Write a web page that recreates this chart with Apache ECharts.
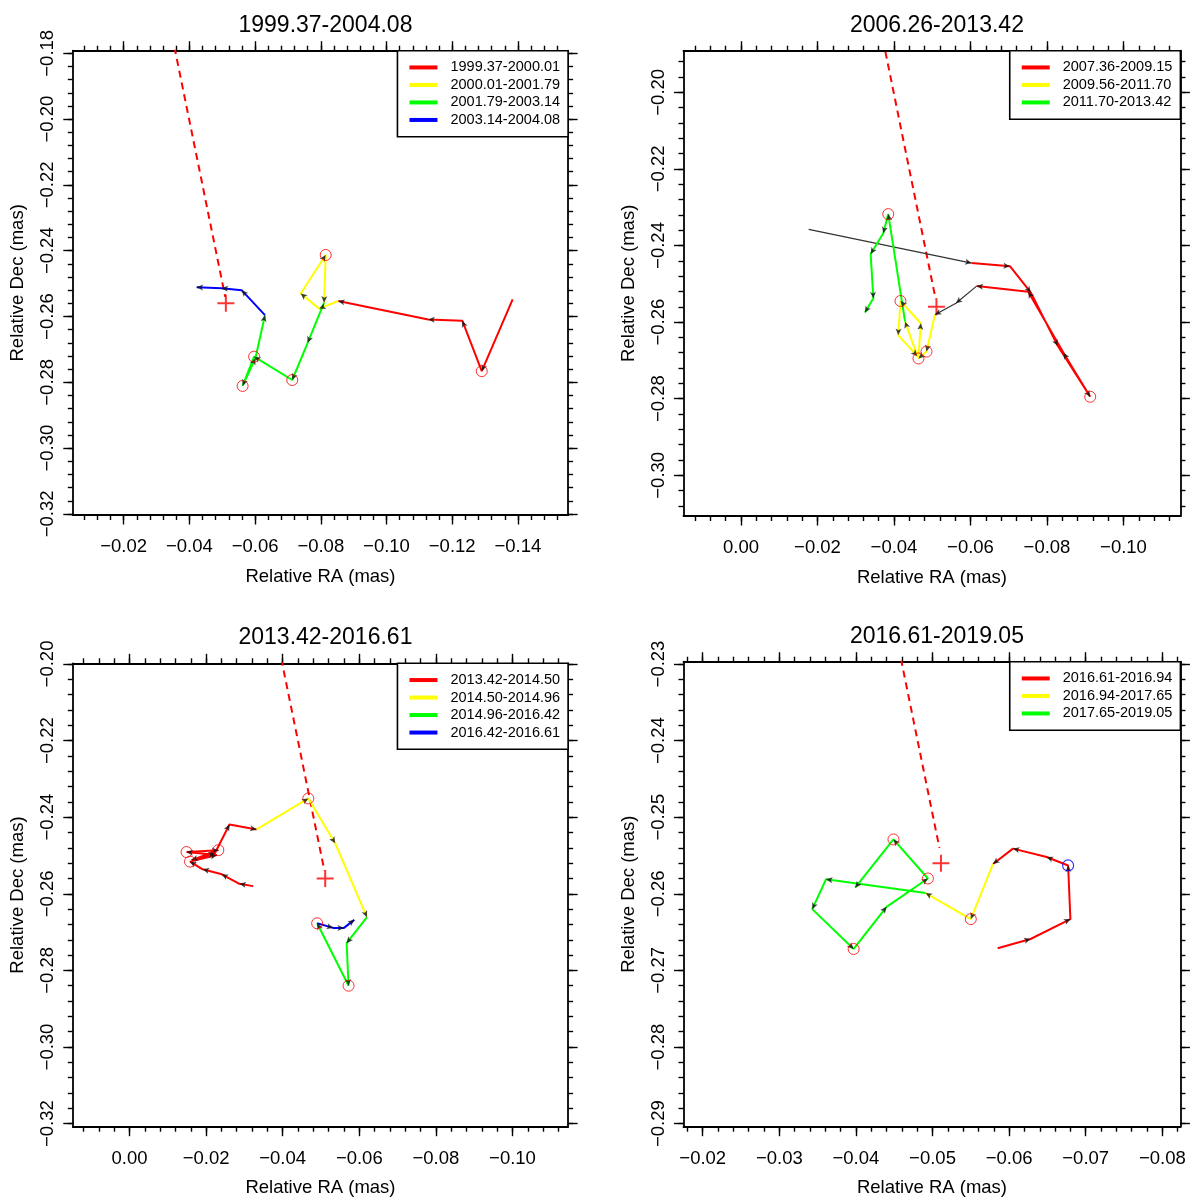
<!doctype html>
<html>
<head>
<meta charset="utf-8">
<title>Relative RA / Dec tracks</title>
<style>
html, body { margin: 0; padding: 0; background: #fff; }
#main { width: 1200px; height: 1204px; }
</style>
</head>
<body>
<div id="main"></div>
<script src="https://cdn.jsdelivr.net/npm/echarts@6/dist/echarts.min.js"></script>
<script>

var TITLES = ['1999.37-2004.08', '2006.26-2013.42', '2013.42-2016.61', '2016.61-2019.05'];

// dashed direction line and the red cross, same in every panel
var JET = [[-0.0340, -0.1710], [-0.0509, -0.2540]];
var CORE = [[-0.0511, -0.2560]];

// panel 1
var P1_NAMES = ['1999.37-2000.01', '2000.01-2001.79', '2001.79-2003.14', '2003.14-2004.08'];
var P1_RED = [[-0.1384, -0.2548], [-0.1290, -0.2766], [-0.1231, -0.2613], [-0.1127, -0.2609], [-0.0853, -0.2553]];
var P1_YELLOW = [[-0.0853, -0.2553], [-0.0795, -0.2576], [-0.0739, -0.2530], [-0.0815, -0.2413], [-0.0810, -0.2558]];
var P1_GREEN = [[-0.0810, -0.2558], [-0.0760, -0.2680], [-0.0713, -0.2793], [-0.0597, -0.2722], [-0.0562, -0.2811], [-0.0601, -0.2727], [-0.0630, -0.2596]];
var P1_BLUE = [[-0.0630, -0.2596], [-0.0559, -0.2520], [-0.0498, -0.2514], [-0.0422, -0.2511]];
var P1_CIRCLES = [[-0.1290, -0.2766], [-0.0815, -0.2413], [-0.0713, -0.2793], [-0.0597, -0.2722], [-0.0562, -0.2811]];
var P1_XTICKS = [-0.02, -0.04, -0.06, -0.08, -0.10, -0.12, -0.14];
var P1_YTICKS = [-0.32, -0.30, -0.28, -0.26, -0.24, -0.22, -0.20, -0.18];

// panel 2
var P2_NAMES = ['2007.36-2009.15', '2009.56-2011.70', '2011.70-2013.42'];
var P2_GAP_A = [[-0.0177, -0.2358], [-0.0603, -0.2446]];
var P2_RED = [[-0.0603, -0.2446], [-0.0703, -0.2454], [-0.0758, -0.2523], [-0.0828, -0.2662], [-0.0913, -0.2795], [-0.0843, -0.2680], [-0.0751, -0.2521], [-0.0616, -0.2506]];
var P2_GAP_B = [[-0.0616, -0.2506], [-0.0562, -0.2551], [-0.0507, -0.2581]];
var P2_YELLOW = [[-0.0507, -0.2581], [-0.0485, -0.2677], [-0.0464, -0.2695], [-0.0470, -0.2603], [-0.0417, -0.2545], [-0.0411, -0.2634], [-0.0461, -0.2689], [-0.0429, -0.2599]];
var P2_GREEN = [[-0.0429, -0.2599], [-0.0385, -0.2318], [-0.0372, -0.2368], [-0.0339, -0.2422], [-0.0346, -0.2538], [-0.0324, -0.2575]];
var P2_CIRCLES = [[-0.0385, -0.2318], [-0.0417, -0.2545], [-0.0485, -0.2677], [-0.0464, -0.2695], [-0.0913, -0.2795]];
var P2_XTICKS = [0.00, -0.02, -0.04, -0.06, -0.08, -0.10];
var P2_YTICKS = [-0.30, -0.28, -0.26, -0.24, -0.22, -0.20];

// panel 3
var P3_NAMES = ['2013.42-2014.50', '2014.50-2014.96', '2014.96-2016.42', '2016.42-2016.61'];
var P3_RED = [[-0.0323, -0.2580], [-0.0287, -0.2574], [-0.0241, -0.2549], [-0.0191, -0.2536], [-0.0158, -0.2516], [-0.0228, -0.2499], [-0.0149, -0.2491], [-0.0232, -0.2486], [-0.0162, -0.2512], [-0.0223, -0.2494], [-0.0261, -0.2419], [-0.0332, -0.2432]];
var P3_YELLOW = [[-0.0332, -0.2432], [-0.0467, -0.2351], [-0.0537, -0.2468], [-0.0620, -0.2661]];
var P3_GREEN = [[-0.0620, -0.2661], [-0.0567, -0.2729], [-0.0572, -0.2840], [-0.0490, -0.2677]];
var P3_BLUE = [[-0.0490, -0.2677], [-0.0532, -0.2689], [-0.0560, -0.2689], [-0.0587, -0.2668]];
var P3_CIRCLES = [[-0.0467, -0.2351], [-0.0149, -0.2491], [-0.0158, -0.2516], [-0.0232, -0.2486], [-0.0572, -0.2840], [-0.0490, -0.2677]];
var P3_XTICKS = [0.00, -0.02, -0.04, -0.06, -0.08, -0.10];
var P3_YTICKS = [-0.32, -0.30, -0.28, -0.26, -0.24, -0.22, -0.20];

// panel 4
var P4_NAMES = ['2016.61-2016.94', '2016.94-2017.65', '2017.65-2019.05'];
var P4_RED = [[-0.0585, -0.2671], [-0.0628, -0.2659], [-0.0680, -0.2633], [-0.0677, -0.2563], [-0.0649, -0.2552], [-0.0605, -0.2541], [-0.0579, -0.2561]];
var P4_YELLOW = [[-0.0579, -0.2561], [-0.0550, -0.2633], [-0.0491, -0.2599]];
var P4_GREEN = [[-0.0491, -0.2599], [-0.0361, -0.2581], [-0.0343, -0.2620], [-0.0397, -0.2672], [-0.0440, -0.2617], [-0.0494, -0.2580], [-0.0449, -0.2529], [-0.0399, -0.2592]];
var P4_CIRCLES = [[-0.0550, -0.2633], [-0.0397, -0.2672], [-0.0494, -0.2580], [-0.0449, -0.2529]];
var P4_BLUE_CIRCLES = [[-0.0677, -0.2563]];
var P4_XTICKS = [-0.02, -0.03, -0.04, -0.05, -0.06, -0.07, -0.08];
var P4_YTICKS = [-0.29, -0.28, -0.27, -0.26, -0.25, -0.24, -0.23];

var FONT = 'Liberation Sans, Arial, sans-serif';
var RED = '#ff0000', YELLOW = '#ffff00', GREEN = '#00ff00', BLUE = '#0000ff', GAP = '#333333';
var SEG_COLORS = [RED, YELLOW, GREEN, BLUE];

// filled arrowhead with its tip at the centre of the symbol box
var ARROW = 'path://M0,-9L0.01,-9L0,-8.99Z M0,0L4.5,9L0,6.8L-4.5,9Z';
var PLUS = 'path://M-1,-8.5H1V-1H8.5V1H1V8.5H-1V1H-8.5V-1H-1Z';

// box = [left, top, right, bottom] of each plot frame in px
var PANELS = [
    {box: [72.8, 50.7, 568.1, 515.0], xr: [-0.15528, -0.00451], yr: [-0.32033, -0.17921],
     xt: P1_XTICKS, yt: P1_YTICKS, minor: 0.004, names: P1_NAMES,
     segs: [P1_RED, P1_YELLOW, P1_GREEN, P1_BLUE], gaps: [],
     chain: [P1_RED, P1_YELLOW, P1_GREEN, P1_BLUE], circles: P1_CIRCLES, blueCircles: []},
    {box: [683.5, 50.7, 1180.4, 516.0], xr: [-0.11488, 0.01503], yr: [-0.31063, -0.18914],
     xt: P2_XTICKS, yt: P2_YTICKS, minor: 0.004, names: P2_NAMES,
     segs: [P2_RED, P2_YELLOW, P2_GREEN], gaps: [P2_GAP_A, P2_GAP_B],
     chain: [P2_GAP_A, P2_RED, P2_GAP_B, P2_YELLOW, P2_GREEN], circles: P2_CIRCLES, blueCircles: []},
    {box: [72.8, 663.3, 568.1, 1126.7], xr: [-0.11452, 0.01480], yr: [-0.32081, -0.19982],
     xt: P3_XTICKS, yt: P3_YTICKS, minor: 0.004, names: P3_NAMES,
     segs: [P3_RED, P3_YELLOW, P3_GREEN, P3_BLUE], gaps: [],
     chain: [P3_RED, P3_YELLOW, P3_GREEN, P3_BLUE], circles: P3_CIRCLES, blueCircles: []},
    {box: [683.5, 661.7, 1180.4, 1126.7], xr: [-0.08236, -0.01749], yr: [-0.29040, -0.22970],
     xt: P4_XTICKS, yt: P4_YTICKS, minor: 0.002, names: P4_NAMES,
     segs: [P4_RED, P4_YELLOW, P4_GREEN], gaps: [],
     chain: [P4_RED, P4_YELLOW, P4_GREEN], circles: P4_CIRCLES, blueCircles: P4_BLUE_CIRCLES}
];

function fmt(v) {
    return (v < -1e-9 ? '\u2212' : '') + Math.abs(v).toFixed(2);
}

function minorTicks(r, step) {
    var out = [];
    var lo = Math.min(r[0], r[1]), hi = Math.max(r[0], r[1]);
    for (var k = Math.ceil(lo / step - 1e-6); k * step <= hi + 1e-9; k++) {
        out.push(+(k * step).toFixed(6));
    }
    return out;
}

function makeAxis(dim, gi, pos, range, ticks, major, labelled) {
    var isX = dim === 'x';
    return {
        type: 'value', gridIndex: gi, position: pos,
        min: range[0], max: range[1], inverse: isX,
        name: labelled ? (isX ? 'Relative RA (mas)' : 'Relative Dec (mas)') : '',
        nameLocation: 'middle', nameGap: isX ? 52 : 45.5,
        nameTextStyle: {fontFamily: FONT, fontSize: 18.5, color: '#000'},
        axisLine: {show: major, onZero: false, lineStyle: {color: '#000', width: 1.8}},
        axisTick: {show: true, customValues: ticks, length: major ? 9.5 : 5,
                   lineStyle: {color: '#000', width: 1.4}},
        axisLabel: {show: labelled, customValues: ticks, formatter: fmt,
                    rotate: isX ? 0 : 90, margin: isX ? 22.5 : 15.5,
                    fontFamily: FONT, fontSize: 18.5, color: '#000'},
        splitLine: {show: false}
    };
}

var option = {
    animation: false,
    backgroundColor: '#fff',
    title: [], grid: [], xAxis: [], yAxis: [], legend: [], series: []
};

PANELS.forEach(function (p, i) {
    var b = p.box;
    var ax = {xAxisIndex: 4 * i, yAxisIndex: 4 * i};

    option.grid.push({left: b[0], top: b[1], width: b[2] - b[0], height: b[3] - b[1], show: false});
    option.title.push({
        text: TITLES[i], left: (b[0] + b[2]) / 2, top: b[1] - 42, textAlign: 'center',
        textStyle: {fontFamily: FONT, fontSize: 23, fontWeight: 'normal', color: '#000'}
    });

    var xm = minorTicks(p.xr, p.minor), ym = minorTicks(p.yr, p.minor);
    option.xAxis.push(makeAxis('x', i, 'bottom', p.xr, p.xt, true, true));
    option.xAxis.push(makeAxis('x', i, 'bottom', p.xr, xm, false, false));
    option.xAxis.push(makeAxis('x', i, 'top', p.xr, p.xt, true, false));
    option.xAxis.push(makeAxis('x', i, 'top', p.xr, xm, false, false));
    option.yAxis.push(makeAxis('y', i, 'left', p.yr, p.yt, true, true));
    option.yAxis.push(makeAxis('y', i, 'left', p.yr, ym, false, false));
    option.yAxis.push(makeAxis('y', i, 'right', p.yr, p.yt, true, false));
    option.yAxis.push(makeAxis('y', i, 'right', p.yr, ym, false, false));

    option.legend.push({
        data: p.names, orient: 'vertical', right: 1200 - b[2], top: b[1],
        backgroundColor: '#fff', borderColor: '#000', borderWidth: 1.6, borderRadius: 0,
        padding: [8, 8, 8, 12], itemWidth: 28, itemHeight: 4, itemGap: 0, icon: 'rect',
        selectedMode: false, z: 10,
        textStyle: {fontFamily: FONT, fontSize: 14.5, color: '#000', lineHeight: 17.5, padding: [0, 0, 0, 8]}
    });

    option.series.push(Object.assign({
        type: 'line', data: JET, symbol: 'none', silent: true, z: 2,
        lineStyle: {color: RED, width: 2, type: [7, 5]}
    }, ax));

    p.gaps.forEach(function (g) {
        option.series.push(Object.assign({
            type: 'line', data: g, symbol: 'none', silent: true, z: 3,
            lineStyle: {color: GAP, width: 1.2}
        }, ax));
    });

    p.segs.forEach(function (seg, k) {
        var c = SEG_COLORS[k];
        option.series.push(Object.assign({
            type: 'line', name: p.names[k], data: seg, symbol: 'none', silent: true, z: 3,
            lineStyle: {color: c, width: 2}, itemStyle: {color: c}
        }, ax));
    });

    option.series.push(Object.assign({
        type: 'scatter', data: CORE, symbol: PLUS, symbolSize: 17, silent: true, z: 4,
        itemStyle: {color: RED}
    }, ax));

    option.series.push(Object.assign({
        id: 'arrows' + i, type: 'scatter', data: [], symbol: ARROW, symbolSize: [6, 13],
        silent: true, z: 5, itemStyle: {color: '#111'}
    }, ax));

    option.series.push(Object.assign({
        type: 'scatter', data: p.circles, symbol: 'circle', symbolSize: 11, silent: true, z: 6,
        itemStyle: {color: 'rgba(0,0,0,0)', borderColor: RED, borderWidth: 1}
    }, ax));

    if (p.blueCircles.length) {
        option.series.push(Object.assign({
            type: 'scatter', data: p.blueCircles, symbol: 'circle', symbolSize: 11, silent: true, z: 6,
            itemStyle: {color: 'rgba(0,0,0,0)', borderColor: BLUE, borderWidth: 1.2}
        }, ax));
    }
});

var chart = echarts.init(document.getElementById('main'));
chart.setOption(option);

// arrowheads point along the direction of travel, so their angle needs pixel positions
var arrowUpdates = PANELS.map(function (p, i) {
    var chain = [];
    p.chain.forEach(function (seg, k) {
        seg.forEach(function (pt, j) {
            if (k === 0 || j > 0) chain.push(pt);
        });
    });
    var finder = {xAxisIndex: 4 * i, yAxisIndex: 4 * i};
    var px = chain.map(function (pt) { return chart.convertToPixel(finder, pt); });
    var data = [];
    for (var j = 1; j < chain.length; j++) {
        var dx = px[j][0] - px[j - 1][0], dy = px[j][1] - px[j - 1][1];
        data.push({value: chain[j], symbolRotate: Math.atan2(-dx, -dy) * 180 / Math.PI});
    }
    return {id: 'arrows' + i, data: data};
});
chart.setOption({series: arrowUpdates});

window.addEventListener('resize', function () {
    chart.resize();
});
</script>
</body>
</html>
